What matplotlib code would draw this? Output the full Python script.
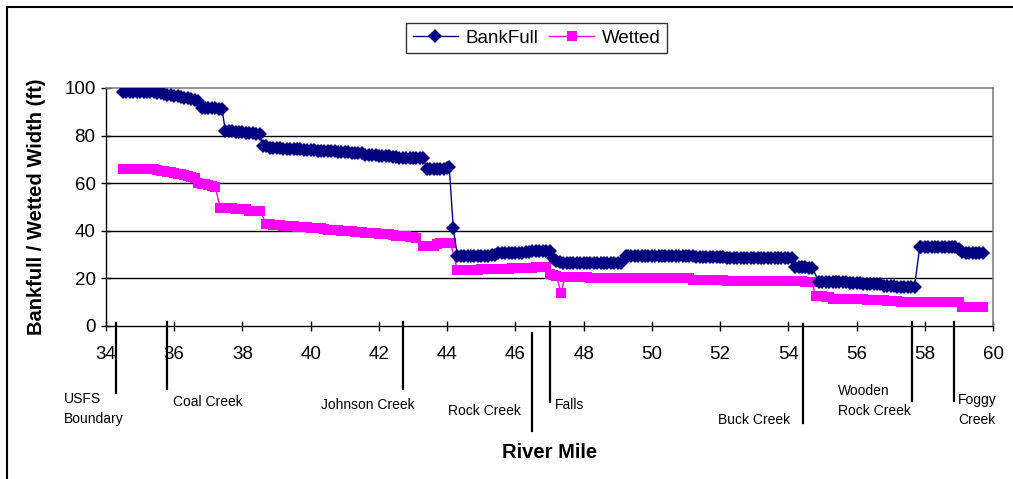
import matplotlib
matplotlib.use("Agg")
import matplotlib.pyplot as plt
import matplotlib.transforms as mtransforms
from matplotlib.lines import Line2D

plt.rcParams['font.family'] = ['Liberation Sans', 'DejaVu Sans']

# River mile and bankfull channel width (ft)
bankfull_mile = [
    34.5, 34.6, 34.7, 34.8, 34.9, 35.0, 35.1, 35.2, 35.3,
    35.4, 35.5, 35.6, 35.7, 35.8, 35.9, 36.0, 36.1, 36.2, 36.3, 36.4, 36.5, 36.6, 36.7,
    36.8, 36.9, 37.0, 37.1, 37.2, 37.3, 37.4,
    37.5, 37.6, 37.7, 37.8, 37.9, 38.0, 38.1, 38.2, 38.3, 38.4, 38.5,
    38.6, 38.7, 38.8, 38.9, 39.0, 39.1,
    39.2, 39.3, 39.4, 39.5, 39.6, 39.7,
    39.8, 39.9, 40.0, 40.1,
    40.2, 40.3, 40.4, 40.5, 40.6, 40.7,
    40.8, 40.9, 41.0, 41.1,
    41.2, 41.3, 41.4, 41.5,
    41.6, 41.7, 41.8, 41.9,
    42.0, 42.1, 42.2, 42.3,
    42.4, 42.5,
    42.6, 42.7, 42.8, 42.9, 43.0, 43.1, 43.2, 43.3,
    43.4, 43.5, 43.6, 43.7, 43.8, 43.9,
    44.0, 44.06, 44.18,
    44.3, 44.4, 44.5, 44.6, 44.7, 44.8, 44.9, 45.0, 45.1, 45.2,
    45.3, 45.4,
    45.5, 45.6, 45.7, 45.8, 45.9, 46.0, 46.1, 46.2,
    46.3, 46.4,
    46.5, 46.6, 46.7, 46.8, 46.9, 47.0,
    47.1, 47.2, 47.3, 47.4,
    47.5, 47.6, 47.7, 47.8, 47.9, 48.0, 48.1, 48.2, 48.3, 48.4, 48.5, 48.6, 48.7,
    48.8, 48.9, 49.0, 49.1,
    49.25,
    49.3, 49.4, 49.5, 49.6, 49.7, 49.8, 49.9, 50.0, 50.1, 50.2, 50.3, 50.4, 50.5,
    50.6, 50.7, 50.8, 50.9, 51.0, 51.1, 51.2,
    51.3, 51.4, 51.5, 51.6, 51.7, 51.8, 51.9, 52.0, 52.1,
    52.2, 52.3, 52.4, 52.5, 52.6, 52.7, 52.8, 52.9, 53.0, 53.1, 53.2, 53.3, 53.4,
    53.5, 53.6, 53.7, 53.8, 53.9, 54.0, 54.1,
    54.2, 54.3, 54.4, 54.5, 54.6, 54.7,
    54.9, 55.0, 55.1, 55.2, 55.3, 55.4, 55.5, 55.6, 55.7,
    55.8, 55.9, 56.0, 56.1,
    56.2, 56.3, 56.4, 56.5, 56.6, 56.7,
    56.8, 56.9, 57.0, 57.1,
    57.2, 57.3, 57.4, 57.5, 57.6, 57.7,
    57.85, 57.9, 58.0, 58.1, 58.2, 58.3, 58.4, 58.5, 58.6, 58.7, 58.8, 58.9,
    59.0, 59.1,
    59.2, 59.3, 59.4, 59.5, 59.6, 59.7,
]
bankfull_width = [
    98.5, 98.5, 98.5, 98.5, 98.5, 98.5, 98.5, 98.5, 98.5,
    98.2, 98, 97.8, 97.5, 97.2, 97, 96.8, 96.5, 96.2, 96, 95.8, 95.5, 95, 94.5,
    91.5, 91.5, 91.5, 91.5, 91.5, 91, 91,
    82, 82, 82, 81.5, 81.5, 81.5, 81, 81, 81, 80.5, 80.5,
    75.5, 75.5, 75, 75, 75, 75,
    74.5, 74.5, 74.5, 74.5, 74.5, 74.5,
    74, 74, 74, 74,
    73.5, 73.5, 73.5, 73.5, 73.5, 73.5,
    73, 73, 73, 73,
    72.5, 72.5, 72.5, 72.5,
    72, 72, 72, 72,
    71.5, 71.5, 71.5, 71.5,
    71, 71,
    70.5, 70.5, 70.5, 70.5, 70.5, 70.5, 70.5, 70.5,
    66, 66, 66, 66, 66, 66,
    66.5, 67, 41,
    29.5, 29.5, 29.5, 29.5, 29.5, 29.5, 29.5, 29.5, 29.5, 29.5,
    30, 30,
    30.5, 30.5, 30.5, 30.5, 30.5, 30.5, 30.5, 30.5,
    31, 31,
    31.5, 31.5, 31.5, 31.5, 31.5, 31.5,
    28.5, 27.5, 27, 26.5,
    26.5, 26.5, 26.5, 26.5, 26.5, 26.5, 26.5, 26.5, 26.5, 26.5, 26.5, 26.5, 26.5,
    26.5, 26.5, 26.5, 26.5,
    29.5,
    29.5, 29.5, 29.5, 29.5, 29.5, 29.5, 29.5, 29.5, 29.5, 29.5, 29.5, 29.5, 29.5,
    29.5, 29.5, 29.5, 29.5, 29.5, 29.5, 29.5,
    29, 29, 29, 29, 29, 29, 29, 29, 29,
    28.5, 28.5, 28.5, 28.5, 28.5, 28.5, 28.5, 28.5, 28.5, 28.5, 28.5, 28.5, 28.5,
    28.5, 28.5, 28.5, 28.5, 28.5, 28.5, 28.5,
    25, 25, 25, 25, 24.5, 24.5,
    18.5, 18.5, 18.5, 18.5, 18.5, 18.5, 18.5, 18.5, 18.5,
    18, 18, 18, 18,
    17.5, 17.5, 17.5, 17.5, 17.5, 17.5,
    17, 17, 17, 17,
    16.5, 16.5, 16.5, 16.5, 16.5, 16.5,
    33, 33, 33, 33, 33, 33, 33, 33, 33, 33, 33, 33,
    32.5, 31,
    30.5, 30.5, 30.5, 30.5, 30.5, 30.5,
]

# River mile and wetted channel width (ft)
wetted_mile = [
    34.5, 34.6, 34.7, 34.8, 34.9, 35.0, 35.1, 35.2, 35.3,
    35.4, 35.5, 35.6, 35.7, 35.8, 35.9, 36.0, 36.1, 36.2, 36.3, 36.4, 36.5, 36.6,
    36.7, 36.8, 36.9, 37.0, 37.1, 37.2,
    37.35, 37.4, 37.5, 37.6, 37.7,
    37.8, 37.9, 38.0, 38.1,
    38.2, 38.3, 38.4, 38.5,
    38.7, 38.8, 38.9, 39.0, 39.1, 39.2, 39.3, 39.4, 39.5, 39.6, 39.7, 39.8, 39.9,
    40.0, 40.1, 40.2, 40.3, 40.4, 40.5, 40.6, 40.7, 40.8, 40.9, 41.0, 41.1, 41.2,
    41.3, 41.4, 41.5, 41.6, 41.7, 41.8, 41.9, 42.0, 42.1, 42.2, 42.3, 42.4, 42.5,
    42.6, 42.7, 42.8, 42.9, 43.0, 43.1,
    43.3, 43.4, 43.5, 43.6,
    43.7, 43.8, 43.9, 44.0, 44.1,
    44.3, 44.4, 44.5, 44.6, 44.7, 44.8, 44.9,
    45.0, 45.1, 45.2, 45.3, 45.4, 45.5, 45.6, 45.7, 45.8,
    45.9, 46.0, 46.1, 46.2, 46.3, 46.4, 46.5,
    46.6, 46.7, 46.8, 46.9,
    47.0, 47.1, 47.2, 47.34, 47.45,
    47.5, 47.6, 47.7, 47.8, 47.9, 48.0, 48.1,
    48.2, 48.3, 48.4, 48.5, 48.6, 48.7, 48.8, 48.9, 49.0, 49.1, 49.2, 49.3, 49.4,
    49.5, 49.6, 49.7, 49.8, 49.9, 50.0, 50.1, 50.2, 50.3, 50.4, 50.5, 50.6, 50.7,
    50.8, 50.9, 51.0, 51.1,
    51.2, 51.3, 51.4, 51.5, 51.6, 51.7, 51.8, 51.9, 52.0, 52.1,
    52.2, 52.3, 52.4, 52.5, 52.6, 52.7, 52.8, 52.9, 53.0, 53.1, 53.2, 53.3, 53.4,
    53.5, 53.6, 53.7, 53.8, 53.9, 54.0, 54.1, 54.2, 54.3, 54.4,
    54.5, 54.6, 54.7,
    54.8, 54.9, 55.0,
    55.1, 55.2,
    55.3, 55.4, 55.5, 55.6, 55.7, 55.8, 55.9, 56.0, 56.1, 56.2,
    56.3, 56.4, 56.5, 56.6, 56.7, 56.8,
    56.9, 57.0, 57.1, 57.2,
    57.3, 57.4, 57.5, 57.6, 57.7, 57.8, 57.9, 58.0, 58.1, 58.2, 58.3, 58.4, 58.5,
    58.6, 58.7, 58.8, 58.9, 59.0,
    59.1, 59.2, 59.3, 59.4, 59.5, 59.6, 59.7,
]
wetted_width = [
    66, 66, 66, 66, 66, 66, 66, 66, 66,
    65.8, 65.5, 65.2, 65, 64.8, 64.5, 64.2, 64, 63.8, 63.5, 63, 62.5, 62,
    60, 59.8, 59.5, 59.2, 59, 58.5,
    49.5, 49.5, 49.5, 49.5, 49.5,
    49, 49, 49, 49,
    48.5, 48.5, 48.5, 48.5,
    43, 42.8, 42.5, 42.5, 42.5, 42.2, 42, 42, 42, 41.8, 41.5, 41.5, 41.5,
    41.2, 41, 41, 41, 40.8, 40.5, 40.5, 40.5, 40.2, 40, 40, 40, 39.8,
    39.5, 39.5, 39.5, 39.2, 39, 39, 39, 38.8, 38.5, 38.5, 38.5, 38.2, 38,
    38, 38, 37.8, 37.5, 37.5, 37,
    33.5, 33.5, 33.5, 33.5,
    34.5, 35, 35, 35, 35,
    23.5, 23.5, 23.5, 23.5, 23.5, 23.5, 23.5,
    24, 24, 24, 24, 24, 24, 24, 24, 24,
    24.5, 24.5, 24.5, 24.5, 24.5, 24.5, 24.5,
    25, 25, 25, 25,
    22, 21.5, 21, 14, 20.5,
    20.5, 20.5, 20.5, 20.5, 20.5, 20.5, 20.5,
    20, 20, 20, 20, 20, 20, 20, 20, 20, 20, 20, 20, 20,
    20, 20, 20, 20, 20, 20, 20, 20, 20, 20, 20, 20, 20,
    20, 20, 20, 20,
    19.5, 19.5, 19.5, 19.5, 19.5, 19.5, 19.5, 19.5, 19.5, 19.5,
    19, 19, 19, 19, 19, 19, 19, 19, 19, 19, 19, 19, 19,
    19, 19, 19, 19, 19, 19, 19, 19, 19, 19,
    18.5, 18.5, 18.5,
    12.5, 12.5, 12.5,
    12, 12,
    11.5, 11.5, 11.5, 11.5, 11.5, 11.5, 11.5, 11.5, 11.5, 11.5,
    11, 11, 11, 11, 11, 11,
    10.5, 10.5, 10.5, 10.5,
    10, 10, 10, 10, 10, 10, 10, 10, 10, 10, 10, 10, 10,
    10, 10, 10, 10, 10,
    8, 8, 8, 8, 8, 8, 8,
]
assert len(bankfull_mile) == len(bankfull_width)
assert len(wetted_mile) == len(wetted_width)

# Tributaries and landmarks along the river
landmark_mile = [34.29, 35.79, 42.71, 46.49, 47.02, 54.44, 57.64, 58.87]
landmark_name = ["USFS\nBoundary", "Coal Creek", "Johnson Creek", "Rock Creek",
                 "Falls", "Buck Creek", "Wooden\nRock Creek", "Foggy\nCreek"]

W, H = 1013, 479
fig = plt.figure(figsize=(W / 100, H / 100), dpi=100)
fig.patch.set_facecolor("white")

x0, x1, y0, y1 = 106, 993, 88, 326
ax = fig.add_axes([x0 / W, 1 - y1 / H, (x1 - x0) / W, (y1 - y0) / H])

navy = "#000080"
magenta = "#FF00FF"
ax.plot(bankfull_mile, bankfull_width, color=navy, lw=1.0, marker="D", ms=6.8,
        markeredgewidth=0, label="BankFull", zorder=3)
ax.plot(wetted_mile, wetted_width, color=magenta, lw=1.0, marker="s", ms=7.2,
        markeredgewidth=0, label="Wetted", zorder=2)

ax.set_xlim(34, 60)
ax.set_ylim(0, 100)
ax.set_xticks(range(34, 61, 2))
ax.set_yticks(range(0, 101, 20))
for y in (20, 40, 60, 80):
    ax.axhline(y, color="black", lw=1.0, zorder=1)

for side in ("top", "right"):
    ax.spines[side].set_color("#808080")
    ax.spines[side].set_linewidth(1.2)
for side in ("left", "bottom"):
    ax.spines[side].set_color("black")
    ax.spines[side].set_linewidth(1.0)

ax.tick_params(axis="both", direction="inout", length=7, width=1, labelsize=13.5,
               colors="black")
ax.tick_params(axis="x", pad=11)
ax.tick_params(axis="y", pad=4)

ax.set_ylabel("Bankfull / Wetted Width (ft)", fontsize=14.5, fontweight="bold")
ax.yaxis.set_label_coords(-60 / (x1 - x0), 0.5)
fig.text(549.5 / W, 1 - 452 / H, "River Mile", fontsize=14.5, fontweight="bold",
         ha="center", va="center")

# Landmark markers below the axis
trans = mtransforms.blended_transform_factory(ax.transData, ax.transAxes)
line_bottoms = [393, 389, 389, 431, 402, 423, 401, 401]
line_tops = [323, 322, 322, 333, 322, 324, 322, 322]
label_x_px = [64, 173, 321, 448, 555, 718, 838, 958]
label_y_px = [409, 402, 405, 411, 405, 420, 401, 410]
for m, name, lb, lt, lx, ly in zip(landmark_mile, landmark_name, line_bottoms,
                                   line_tops, label_x_px, label_y_px):
    ax.plot([m, m], [(y1 - lt) / (y1 - y0), (y1 - lb) / (y1 - y0)], color="black",
            lw=1.6, transform=trans, clip_on=False, zorder=4)
    fig.text(lx / W, 1 - ly / H, name, fontsize=10, ha="left", va="center",
             linespacing=1.6)

# Legend
leg = fig.legend(loc="center", bbox_to_anchor=(536.5 / W, 1 - 38 / H), ncol=2,
                 fontsize=13.5, frameon=True, fancybox=False, handlelength=2.4,
                 columnspacing=0.6, handletextpad=0.4, borderpad=0.35)
leg.get_frame().set_edgecolor("black")
leg.get_frame().set_linewidth(1.0)

# Chart border
fig.add_artist(Line2D([7 / W, 1.0], [1 - 7 / H, 1 - 7 / H], color="black", lw=1.5,
                      transform=fig.transFigure))
fig.add_artist(Line2D([7 / W, 7 / W], [0, 1 - 7 / H], color="black", lw=1.5,
                      transform=fig.transFigure))

fig.savefig("out.png", dpi=100, facecolor="white")
